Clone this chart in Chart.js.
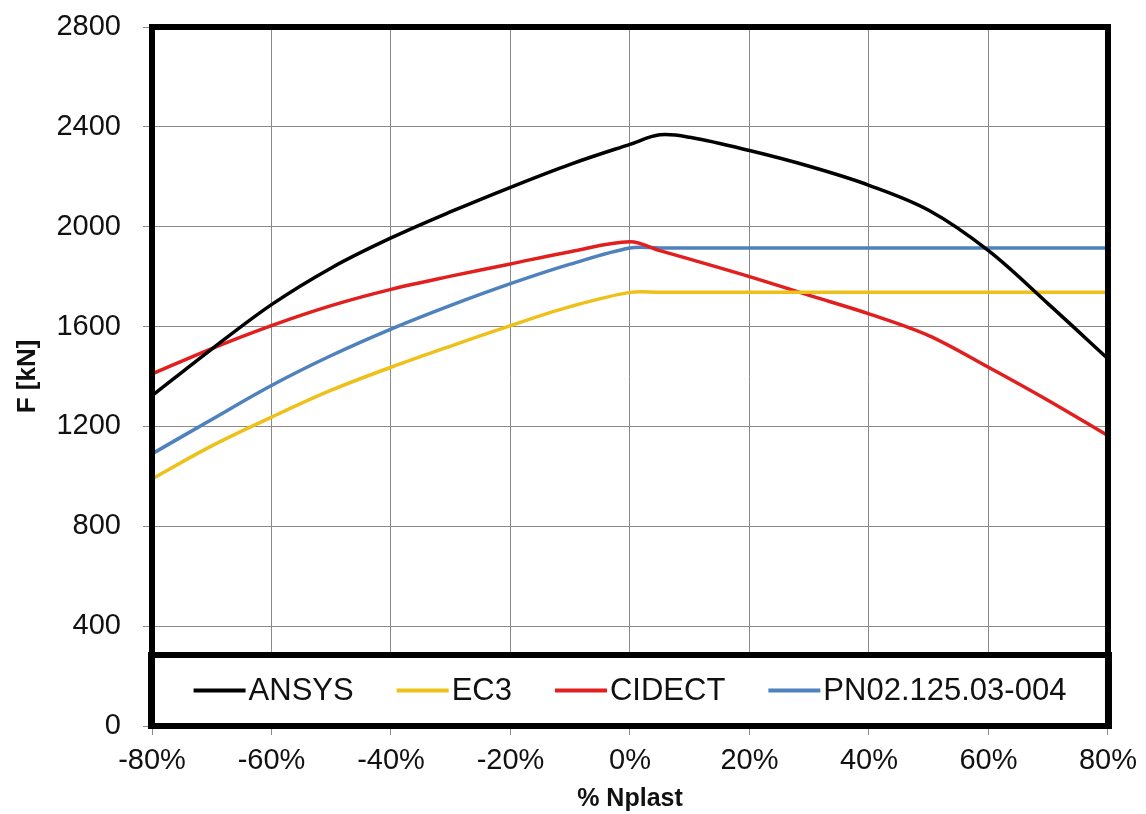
<!DOCTYPE html>
<html>
<head>
<meta charset="utf-8">
<script src="https://cdn.jsdelivr.net/npm/chart.js@4.4.1/dist/chart.umd.min.js"></script>
<style>
    html, body {
        margin: 0;
        padding: 0;
        background: #ffffff;
    }
    .chart-box {
        width: 1146px;
        height: 814px;
    }
</style>
</head>
<body>
<div class="chart-box">
    <canvas id="nplastChart" width="1146" height="814"></canvas>
</div>

<script>
    // axial load level, % of Nplast
    const nplast = [-80, -70, -60, -50, -40, -30, -20, -10, 0, 5, 10, 20, 30, 40, 50, 60, 70, 80];

    // resistance F [kN] for each method
    const ansys  = [1323, 1510, 1688, 1835, 1955, 2060, 2158, 2250, 2330, 2368, 2358, 2305, 2242, 2166, 2066, 1904, 1691, 1471];
    const ec3    = [990, 1122, 1237, 1345, 1437, 1522, 1604, 1680, 1737, 1737, 1737, 1737, 1737, 1737, 1737, 1737, 1737, 1737];
    const cidect = [1410, 1512, 1604, 1684, 1749, 1802, 1851, 1900, 1940, 1904, 1870, 1800, 1725, 1651, 1564, 1437, 1304, 1163];
    const pn     = [1090, 1228, 1364, 1484, 1590, 1685, 1772, 1850, 1915, 1915, 1915, 1915, 1915, 1915, 1915, 1915, 1915, 1915];

    const seriesNames  = ['ANSYS', 'EC3', 'CIDECT', 'PN02.125.03-004'];
    const seriesColors = ['#000000', '#eec11a', '#e21f1f', '#4f81bd'];
    const seriesValues = [ansys, ec3, cidect, pn];

    const yTicks = { min: 0, max: 2800, step: 400 };
    const xTicks = { min: -80, max: 80, step: 20 };

    const FONT = "'Liberation Sans', Arial, sans-serif";

    // thick frame round the plot plus the boxed legend sitting on the bottom of it
    const frameAndLegend = {
        id: 'frameAndLegend',
        afterDraw(chart) {
            const { ctx, chartArea } = chart;
            const { left, right, top, bottom } = chartArea;

            ctx.save();
            // legend box
            const boxTop = bottom - 71;
            ctx.fillStyle = '#ffffff';
            ctx.fillRect(left - 2, boxTop, right - left + 4, bottom - boxTop);
            ctx.lineWidth = 6;
            ctx.strokeStyle = '#000000';
            ctx.strokeRect(left - 1, boxTop, right - left + 2, bottom - boxTop);

            // legend entries
            ctx.font = '31px ' + FONT;
            ctx.textBaseline = 'middle';
            const sample = 52, gapText = 3, gapItem = 43;
            const widths = seriesNames.map(n => ctx.measureText(n).width);
            const total = widths.reduce((a, w) => a + sample + gapText + w, 0) + gapItem * (seriesNames.length - 1);
            let x = (left + right) / 2 - total / 2;
            const cy = (boxTop + bottom) / 2;
            seriesNames.forEach((name, i) => {
                ctx.strokeStyle = seriesColors[i];
                ctx.lineWidth = 4;
                ctx.beginPath();
                ctx.moveTo(x, cy);
                ctx.lineTo(x + sample, cy);
                ctx.stroke();
                ctx.fillStyle = '#111111';
                ctx.fillText(name, x + sample + gapText, cy + 1);
                x += sample + gapText + widths[i] + gapItem;
            });

            // plot frame
            ctx.strokeStyle = '#000000';
            ctx.lineWidth = 6;
            ctx.strokeRect(left, top, right - left, bottom - top);
            ctx.restore();
        }
    };

    const ctx = document.getElementById('nplastChart').getContext('2d');

    const nplastChart = new Chart(ctx, {
        type: 'line',
        data: {
            datasets: seriesNames.map((name, i) => ({
                label: name,
                data: nplast.map((p, k) => ({ x: p, y: seriesValues[i][k] })),
                borderColor: seriesColors[i],
                backgroundColor: seriesColors[i],
                borderWidth: 3.5,
                pointRadius: 0,
                tension: 0.35,
                fill: false
            }))
        },
        options: {
            responsive: false,
            animation: false,
            layout: {
                padding: { top: 27, right: 36, left: 0, bottom: 0 }
            },
            plugins: {
                legend: { display: false },
                tooltip: { enabled: false }
            },
            scales: {
                x: {
                    type: 'linear',
                    min: xTicks.min,
                    max: xTicks.max,
                    ticks: {
                        stepSize: xTicks.step,
                        callback: v => v + '%',
                        color: '#111111',
                        font: { family: FONT, size: 29 },
                        padding: 9,
                        maxRotation: 0
                    },
                    grid: { color: '#8a8a8a', lineWidth: 1, tickLength: 9 },
                    border: { display: false },
                    title: {
                        display: true,
                        text: '% Nplast',
                        color: '#111111',
                        font: { family: FONT, size: 25, weight: 'bold' },
                        padding: { top: 0, bottom: 0 }
                    },
                    afterFit(scale) { scale.height = 88; }
                },
                y: {
                    min: yTicks.min,
                    max: yTicks.max,
                    ticks: {
                        stepSize: yTicks.step,
                        callback: v => String(v),
                        color: '#111111',
                        font: { family: FONT, size: 29 },
                        padding: 22
                    },
                    grid: { color: '#8a8a8a', lineWidth: 1, tickLength: 9 },
                    border: { display: false },
                    title: {
                        display: true,
                        text: 'F [kN]',
                        color: '#111111',
                        font: { family: FONT, size: 26, weight: 'bold' },
                        padding: { top: 12, bottom: 0 }
                    },
                    afterFit(scale) {
                        scale.width = 152;
                        scale.paddingTop = 0;
                        scale.paddingBottom = 0;
                    }
                }
            }
        },
        plugins: [frameAndLegend]
    });
</script>
</body>
</html>
